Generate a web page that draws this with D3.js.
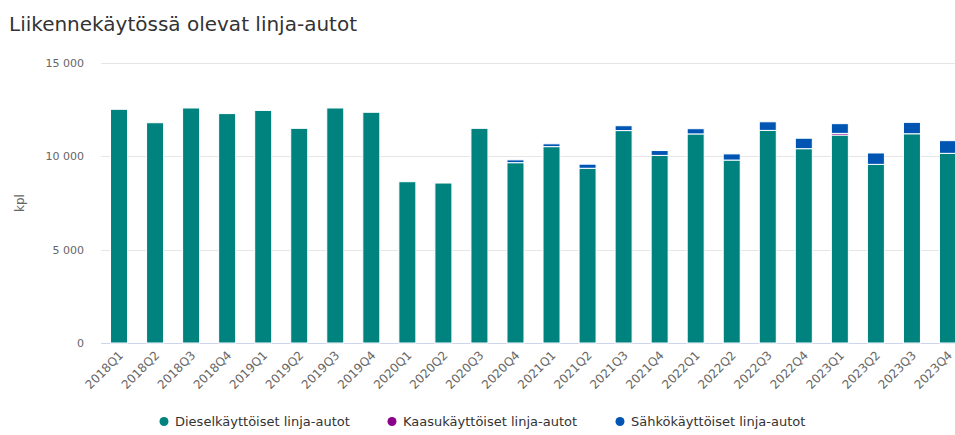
<!DOCTYPE html>
<html>
<head>
<meta charset="utf-8">
<script src="https://cdn.jsdelivr.net/npm/d3@7"></script>
<style>
  body { margin: 0; background: #fff; }
  svg { font-family: "DejaVu Sans", sans-serif; }
</style>
</head>
<body>
<script>
var quarters = ["2018Q1","2018Q2","2018Q3","2018Q4","2019Q1","2019Q2","2019Q3","2019Q4",
                "2020Q1","2020Q2","2020Q3","2020Q4","2021Q1","2021Q2","2021Q3","2021Q4",
                "2022Q1","2022Q2","2022Q3","2022Q4","2023Q1","2023Q2","2023Q3","2023Q4"];
var diesel = [12520, 11800, 12590, 12290, 12460, 11500, 12590, 12360,
              8640, 8570, 11500, 9660, 10520, 9360, 11380, 10050,
              11200, 9800, 11390, 10410, 11140, 9570, 11210, 10160];
var gas = [0, 0, 0, 0, 0, 0, 0, 0,
           0, 0, 0, 0, 0, 0, 0, 0,
           0, 0, 0, 0, 90, 0, 0, 0];
var electric = [0, 0, 0, 0, 0, 0, 0, 0,
                0, 0, 0, 150, 150, 220, 260, 260,
                280, 330, 460, 560, 520, 610, 610, 680];
var yTicks = [0, 5000, 10000, 15000];
var seriesNames = ["Dieselkäyttöiset linja-autot", "Kaasukäyttöiset linja-autot", "Sähkökäyttöiset linja-autot"];
var seriesColors = ["#00837f", "#8b008b", "#0055b3"];

var w = 955, h = 435;
var plotLeft = 101, plotRight = 966, plotTop = 63, plotBottom = 343;

var svg = d3.select("body").append("svg")
  .attr("width", w)
  .attr("height", h);

// title
svg.append("text")
  .attr("x", 9)
  .attr("y", 31)
  .attr("font-size", "20px")
  .attr("fill", "#333")
  .text("Liikennekäytössä olevat linja-autot");

var pad = 1 - 17 / ((plotRight - plotLeft) / quarters.length);
var xScale = d3.scaleBand()
  .domain(quarters)
  .range([plotLeft, plotRight])
  .paddingInner(pad)
  .paddingOuter(pad / 2);

var yScale = d3.scaleLinear()
  .domain([0, 15000])
  .range([plotBottom, plotTop]);

// grid
svg.selectAll("line.grid")
  .data(yTicks)
  .enter()
  .append("line")
  .attr("class", "grid")
  .attr("x1", plotLeft)
  .attr("x2", w)
  .attr("y1", function(d){ return Math.round(yScale(d)) + 0.5; })
  .attr("y2", function(d){ return Math.round(yScale(d)) + 0.5; })
  .attr("stroke", function(d){ return d === 0 ? "#ccd6eb" : "#e6e6e6"; })
  .attr("stroke-width", 1);

var fmt = function(d){ return d3.format(",")(d).replace(/,/g, " "); };
svg.selectAll("text.ytick")
  .data(yTicks)
  .enter()
  .append("text")
  .attr("class", "ytick")
  .attr("x", 84)
  .attr("y", function(d){ return yScale(d) + 4; })
  .attr("text-anchor", "end")
  .attr("font-size", "11px")
  .attr("fill", "#666")
  .text(fmt);

svg.append("text")
  .attr("transform", "translate(24," + ((plotTop + plotBottom) / 2) + ") rotate(-90)")
  .attr("text-anchor", "middle")
  .attr("font-size", "12px")
  .attr("fill", "#666")
  .text("kpl");

// stacked bars
var rows = quarters.map(function(q, i){
  return { q: q, diesel: diesel[i], gas: gas[i], electric: electric[i] };
});
var stack = d3.stack().keys(["diesel", "gas", "electric"])(rows);

svg.selectAll("g.series")
  .data(stack)
  .enter()
  .append("g")
  .attr("class", "series")
  .attr("fill", function(d, i){ return seriesColors[i]; })
  .selectAll("rect")
  .data(function(d){ return d.filter(function(p){ return p[1] - p[0] > 0; }); })
  .enter()
  .append("rect")
  .attr("x", function(d){ return xScale(d.data.q); })
  .attr("y", function(d){ return yScale(d[1]); })
  .attr("width", xScale.bandwidth())
  .attr("height", function(d){ return Math.max(1, yScale(d[0]) - yScale(d[1])); })
  .attr("stroke", "#fff")
  .attr("stroke-width", 1);

// x labels
svg.selectAll("text.xtick")
  .data(quarters)
  .enter()
  .append("text")
  .attr("class", "xtick")
  .attr("transform", function(d){
    var x = xScale(d) + xScale.bandwidth() / 2 + 5;
    return "translate(" + x + "," + (plotBottom + 13) + ") rotate(-45)";
  })
  .attr("text-anchor", "end")
  .attr("font-size", "12px")
  .attr("fill", "#666")
  .text(function(d){ return d; });

// legend
var legend = svg.append("g")
  .attr("transform", "translate(164,426)");
var items = legend.selectAll("g")
  .data(seriesNames)
  .enter()
  .append("g")
  .attr("transform", function(d, i){ return "translate(" + (i * 228) + ",0)"; });
items.append("circle")
  .attr("r", 4.5)
  .attr("cx", 0)
  .attr("cy", -4.5)
  .attr("fill", function(d, i){ return seriesColors[i]; });
items.append("text")
  .attr("x", 11)
  .attr("font-size", "13px")
  .attr("fill", "#333")
  .text(function(d){ return d; });
</script>
</body>
</html>
